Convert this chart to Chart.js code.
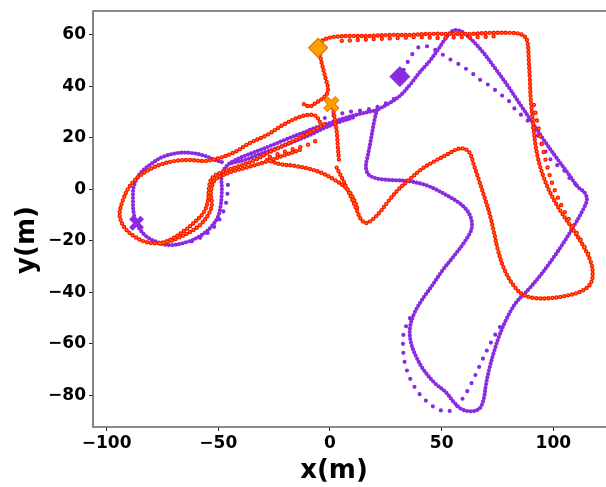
<!DOCTYPE html>
<html>
<head>
<meta charset="utf-8">
<script src="https://cdn.jsdelivr.net/npm/chart.js@4.4.0/dist/chart.umd.min.js"></script>
<style>
  html, body { margin: 0; padding: 0; background: #fff; overflow: hidden; }
  #wrap { width: 606px; height: 487px; overflow: hidden; }
</style>
</head>
<body>
<div id="wrap"><canvas id="traj" width="640" height="487" style="width:640px;height:487px"></canvas></div>
<script>
// trajectory samples, [x, y] in metres

// red run: start, top edge, right side, lower-right loop, back to the hook
const redLoop = [
  [-5.4, 55.3], [-4.1, 57.3], [-1.8, 58.5], [2.2, 59.3], [8.9, 59.6], [17.9, 59.6], [26.8, 60.0],
  [35.8, 60.0], [44.8, 60.4], [53.7, 60.4], [62.6, 60.4], [71.6, 60.8], [80.5, 60.8], [85.0, 60.4],
  [87.7, 58.9], [88.6, 56.1], [89.0, 50.3], [89.5, 42.5], [89.9, 34.8], [90.8, 27.0], [91.7, 19.2],
  [93.1, 12.2], [95.3, 5.6], [98.4, -1.0], [102.9, -8.0], [108.3, -15.0], [113.2, -21.7],
  [116.8, -28.3], [117.6, -33.3], [116.3, -37.2], [111.8, -39.9], [105.1, -41.5], [98.4, -42.3],
  [91.7, -42.3], [85.9, -40.7], [81.4, -36.4], [77.8, -30.6], [75.2, -23.6], [73.4, -16.6],
  [71.6, -10.0], [69.3, -3.4], [66.7, 3.6], [64.4, 9.5], [62.6, 14.1], [60.4, 15.7], [57.3, 15.7],
  [52.8, 13.7], [47.0, 11.0], [41.1, 7.9], [35.8, 4.0], [30.4, -0.3], [25.9, -4.9], [22.4, -8.8],
  [18.8, -11.9], [16.1, -13.1], [13.8, -11.6], [12.0, -8.1], [9.8, -3.8], [7.1, 1.3], [4.9, 5.2],
  [2.2, 9.8],
];
const redDrop = [
  [-4.5, 52.3], [-3.6, 48.7], [-2.7, 45.6], [-1.8, 42.5], [-0.9, 39.4], [-1.4, 37.1], [-3.2, 35.4],
  [-5.9, 33.8], [-9.0, 32.2], [-11.7, 33.1],
];
const redStem = [[1.3, 31.6], [2.2, 27.0], [3.1, 21.9], [3.5, 16.8], [4.0, 11.4]];
const redArc = [
  [-28.2, 11.4], [-22.4, 9.8], [-15.7, 9.1], [-9.0, 7.9], [-3.6, 6.3], [2.2, 3.6], [6.7, 0.9],
  [9.4, -1.8], [11.2, -4.9], [12.5, -8.1],
];
const redBand = [
  [-4.5, 26.2], [-6.3, 28.5], [-9.9, 28.9], [-14.8, 27.7], [-21.1, 25.0], [-28.2, 21.1],
  [-35.9, 18.0], [-42.6, 14.5], [-49.3, 12.2], [-56.0, 11.0], [-62.7, 11.4], [-69.5, 11.0],
  [-76.2, 9.5], [-82.0, 7.1], [-86.9, 4.0], [-90.5, 0.1], [-92.7, -4.2], [-94.0, -8.0],
  [-94.0, -11.2], [-91.8, -15.1], [-87.8, -18.2], [-82.4, -20.5], [-76.2, -20.9], [-70.8, -19.3],
  [-65.4, -16.2], [-60.5, -12.7], [-56.4, -8.8], [-54.6, -4.2], [-54.2, 0.5], [-52.8, 4.4],
  [-48.4, 6.7], [-40.3, 9.1], [-33.6, 11.4], [-26.9, 14.5], [-20.2, 17.2], [-13.5, 20.0],
  [-6.8, 23.1], [-2.3, 25.4],
];
const redInner = [
  [-13.5, 15.3], [-20.2, 13.3], [-29.1, 10.6], [-38.1, 8.3], [-45.7, 6.3], [-51.5, 3.6],
  [-53.3, -1.1], [-52.9, -6.1], [-54.6, -10.0], [-58.2, -13.9], [-62.7, -16.6], [-68.0, -18.9],
  [-72.5, -20.5], [-77.0, -21.3],
];
// sparser passes of the red run
const redTopSparse = [
  [5.3, 57.7], [13.4, 58.1], [22.3, 58.5], [31.3, 58.8], [40.2, 59.2], [49.2, 58.8], [58.1, 59.2],
  [67.1, 59.2], [76.0, 59.6],
];
const redRightSparse = [
  [91.3, 32.8], [93.1, 25.0], [94.9, 17.2], [97.1, 9.5], [99.4, 2.5], [102.1, -3.4], [105.1, -8.8],
  [108.7, -14.3], [112.8, -20.5], [116.4, -26.3],
];
const redLowSparse = [[-26.9, 12.6], [-17.9, 15.3], [-10.3, 17.2], [-4.5, 19.6]];

// purple run: corner, middle, lower loop, right side, top peak, back to the corner
const purpleLoop = [
  [21.0, 30.8], [19.7, 26.0], [18.3, 19.2], [17.0, 13.3], [16.1, 9.0], [17.0, 6.0], [20.1, 4.4],
  [26.8, 3.6], [34.9, 3.2], [43.9, 1.3], [52.8, -2.6], [59.0, -6.1], [62.6, -10.0], [63.5, -15.0],
  [60.8, -19.7], [55.9, -25.5], [50.5, -31.4], [45.6, -37.6], [41.1, -43.1], [37.6, -48.5],
  [35.8, -54.0], [36.2, -59.4], [38.5, -64.9], [42.0, -70.3], [47.0, -75.4], [51.9, -78.9],
  [55.5, -82.8], [59.0, -85.5], [63.5, -86.3], [67.1, -85.1], [68.9, -81.2], [69.8, -76.1],
  [71.2, -70.3], [73.4, -63.3], [76.1, -56.3], [79.2, -50.1], [83.2, -44.2], [88.6, -39.2],
  [94.0, -33.7], [99.3, -27.5], [104.2, -21.3], [109.2, -14.3], [113.2, -8.1], [115.0, -4.2],
  [114.1, -1.4], [111.0, 0.9], [106.5, 6.3], [101.1, 12.6], [95.7, 19.2], [90.4, 26.2],
  [85.0, 33.2], [79.6, 40.2], [73.8, 47.2], [68.0, 53.8], [62.6, 58.8], [58.2, 61.6], [55.0, 61.6],
  [51.9, 58.8], [48.3, 54.2], [44.3, 49.5], [40.3, 45.6], [35.8, 40.6], [31.3, 36.3], [25.9, 33.1],
  [21.0, 30.8],
];
const purpleEight = [
  [21.0, 30.8], [13.4, 29.3], [6.7, 27.7], [0.0, 25.8], [-6.8, 23.8], [-13.5, 21.5], [-20.2, 19.2],
  [-26.9, 16.8], [-33.6, 14.5], [-40.3, 12.2], [-45.7, 9.5], [-48.4, 5.6], [-48.4, -0.3],
  [-48.9, -6.1], [-50.2, -10.8], [-53.7, -15.1], [-58.2, -18.2], [-64.0, -20.5], [-71.7, -21.7],
  [-77.5, -20.5], [-82.4, -18.2], [-86.0, -14.3], [-87.8, -9.6], [-88.2, -4.2], [-87.8, 1.3],
  [-85.1, 6.0], [-80.6, 9.5], [-74.8, 12.6], [-68.1, 14.1], [-61.8, 14.1], [-56.0, 13.0],
  [-51.5, 11.4], [-47.0, 10.2],
];
const purpleBand = [
  [-43.9, 10.2], [-38.1, 11.4], [-31.4, 13.7], [-24.7, 15.7], [-16.6, 18.4], [-9.0, 21.1],
  [-2.3, 23.9], [4.4, 26.2], [11.1, 28.1],
];
// sparser passes of the purple run
const purpleLowSparse = [
  [35.8, -50.1], [33.1, -55.5], [32.7, -60.5], [33.1, -65.6], [34.4, -70.3], [36.7, -75.0],
  [39.8, -79.3], [43.8, -82.8], [48.3, -85.5], [52.8, -86.3], [56.4, -84.7], [59.5, -81.2],
  [62.2, -77.3], [64.9, -72.6], [67.6, -67.5], [70.3, -62.5], [73.4, -57.4], [76.1, -53.5],
];
const purpleTopSparse = [
  [33.0, 46.4], [34.8, 49.5], [37.0, 52.7], [39.3, 55.0], [42.0, 55.7], [44.6, 55.3], [47.8, 53.8],
  [51.4, 51.8], [54.9, 49.9], [58.9, 48.0], [63.5, 45.2], [67.9, 42.1], [71.6, 40.2], [75.6, 37.4],
  [80.1, 34.3], [83.2, 30.8], [89.0, 26.2], [93.5, 19.9], [96.6, 14.5], [99.8, 10.6], [104.2, 7.9],
  [108.7, 2.8], [113.2, 0.1],
];
const purpleMidSparse = [
  [-2.3, 27.7], [4.4, 29.3], [10.7, 30.4], [15.6, 30.8], [21.0, 32.0], [25.5, 33.6], [28.6, 35.1],
  [30.8, 36.7],
];
const purpleInnerSparse = [
  [-45.7, 1.7], [-46.1, -3.4], [-47.5, -8.1], [-50.2, -12.7], [-53.7, -16.2], [-58.2, -18.9],
  [-62.7, -20.5],
];

// start and end of each run
const redStart = [-5.3, 55.0];
const redEnd = [0.6, 33.1];
const purpleStart = [31.3, 43.8];
const purpleEnd = [-86.6, -13.2];

const xTicks = [-100, -50, 0, 50, 100];
const yTicks = [-80, -60, -40, -20, 0, 20, 40, 60];

const RED = "#ff1800";
const ORANGE = "#ffa000";
const PURPLE = "#8a2be2";

const pts = (arr) => arr.map(([x, y]) => ({ x, y }));

// a run drawn as a chain of round dots along the path
function track(arr, color, width, gap) {
  return {
    data: pts(arr),
    showLine: true,
    pointRadius: 0,
    borderColor: color,
    borderWidth: width,
    borderDash: [0, gap],
    borderCapStyle: "round",
    tension: 0.35,
  };
}

function marker(p, style, radius, fill, edge, edgeWidth) {
  return {
    data: pts([p]),
    showLine: false,
    pointStyle: style,
    pointRadius: radius,
    backgroundColor: fill,
    borderColor: edge,
    borderWidth: edgeWidth,
  };
}

const redDense = [redLoop, redDrop, redStem, redArc, redBand, redInner];
const redSparse = [redTopSparse, redRightSparse, redLowSparse];
const purpleDense = [purpleLoop, purpleEight, purpleBand];
const purpleSparse = [purpleLowSparse, purpleTopSparse, purpleMidSparse, purpleInnerSparse];

// first dataset ends up on top
const datasets = [
  marker(redStart, "rectRot", 9.5, ORANGE, "#e67300", 1.2),
  marker(redEnd, "crossRot", 8, ORANGE, ORANGE, 4),
  marker(redEnd, "crossRot", 8.6, "#e67300", "#e67300", 6),
  marker(purpleStart, "rectRot", 10, PURPLE, PURPLE, 1),
  marker(purpleEnd, "crossRot", 8, PURPLE, PURPLE, 5),
  ...redDense.map((a) => track(a, ORANGE, 1.6, 4)),
  ...redSparse.map((a) => track(a, ORANGE, 1.6, 8)),
  ...redDense.map((a) => track(a, RED, 4.4, 4)),
  ...redSparse.map((a) => track(a, RED, 4.4, 8)),
  ...purpleDense.map((a) => track(a, PURPLE, 4.2, 3.5)),
  ...purpleSparse.map((a) => track(a, PURPLE, 4.2, 9)),
];

const tickFont = { family: "DejaVu Sans", weight: "bold", size: 17 };
const minus = (v) => String(v).replace("-", "\u2212");

// axes box: left, top and bottom spines (the right one sits past the page edge)
const frame = {
  id: "frame",
  afterDatasetsDraw(chart) {
    const { ctx, chartArea: a } = chart;
    ctx.save();
    ctx.strokeStyle = "#666";
    ctx.lineWidth = 1.6;
    ctx.beginPath();
    ctx.moveTo(a.right, a.top);
    ctx.lineTo(a.left, a.top);
    ctx.lineTo(a.left, a.bottom);
    ctx.lineTo(a.right, a.bottom);
    ctx.stroke();
    ctx.restore();
  },
};

const axisTitles = {
  id: "axisTitles",
  afterDraw(chart) {
    const ctx = chart.ctx;
    ctx.save();
    ctx.fillStyle = "#000";
    ctx.font = "bold 26px 'DejaVu Sans'";
    ctx.textAlign = "center";
    ctx.textBaseline = "middle";
    ctx.fillText("x(m)", 334, 471);
    ctx.translate(27, 240);
    ctx.rotate(-Math.PI / 2);
    ctx.fillText("y(m)", 0, 0);
    ctx.restore();
  },
};

new Chart(document.getElementById("traj"), {
  type: "scatter",
  data: { datasets },
  options: {
    responsive: false,
    animation: false,
    events: [],
    layout: { autoPadding: false, padding: { top: 11, right: 0, bottom: 0, left: 0 } },
    plugins: { legend: { display: false }, tooltip: { enabled: false } },
    scales: {
      x: {
        min: -106.1,
        max: 138.8,
        afterFit: (s) => {
          s.height = 60;
          s.paddingLeft = s.paddingRight = 0;
        },
        afterBuildTicks: (s) => {
          s.ticks = xTicks.map((value) => ({ value }));
        },
        grid: { drawOnChartArea: false, drawTicks: true, tickLength: 4, tickColor: "#222" },
        border: { display: false },
        ticks: { font: tickFont, color: "#000", padding: 2, maxRotation: 0, callback: minus },
      },
      y: {
        min: -92.4,
        max: 69.3,
        afterFit: (s) => {
          s.width = 93;
          s.paddingTop = s.paddingBottom = 0;
        },
        afterBuildTicks: (s) => {
          s.ticks = yTicks.map((value) => ({ value }));
        },
        grid: { drawOnChartArea: false, drawTicks: true, tickLength: 4, tickColor: "#222" },
        border: { display: false },
        ticks: { font: tickFont, color: "#000", padding: 3, callback: minus },
      },
    },
  },
  plugins: [frame, axisTitles],
});
</script>
</body>
</html>
